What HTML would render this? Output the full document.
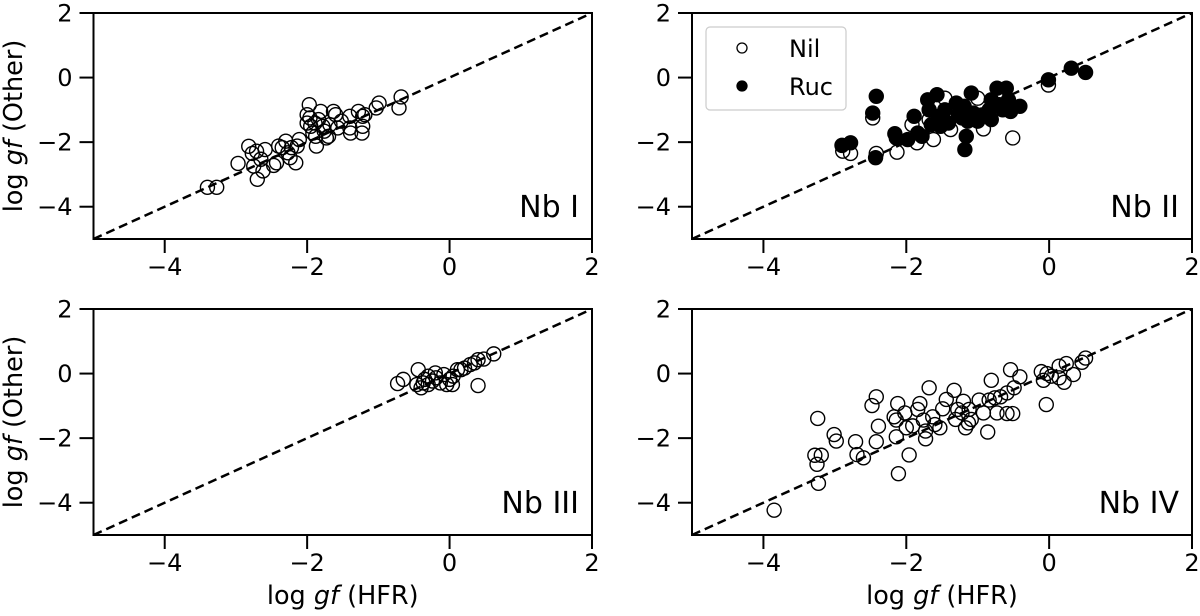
<!DOCTYPE html>
<html><head><meta charset="utf-8"><style>
html,body{margin:0;padding:0;background:#fff;}
svg{display:block;font-family:"DejaVu Sans","Liberation Sans",sans-serif;}
</style></head><body>
<svg id="fig" width="1200" height="616" viewBox="0 0 1200 616" xmlns="http://www.w3.org/2000/svg"></svg>
<script>
const ticks = [-4, -2, 0, 2];
const yTicks = [2, 0, -2, -4];
const panelNames = ["Nb I", "Nb II", "Nb III", "Nb IV"];
const nb1X = [-3.40,-3.27,-2.97,-2.82,-2.77,-2.75,-2.71,-2.70,-2.62,-2.59,-2.65,-2.47,-2.43,-2.40,-2.35,-2.30,-2.27,-2.24,-2.16,-2.22,-2.14,-2.11,-2.0,-1.97,-2.0,-1.95,-1.92,-1.88,-1.87,-1.84,-1.81,-1.78,-1.76,-1.73,-1.70,-1.68,-1.63,-1.60,-1.57,-1.52,-1.40,-1.40,-1.39,-1.28,-1.22,-1.22,-1.23,-1.19,-1.03,-0.99,-0.71,-0.68,-1.96,-1.89];
const nb1Y = [-3.40,-3.40,-2.66,-2.13,-2.35,-2.74,-2.28,-3.15,-2.89,-2.23,-2.53,-2.72,-2.64,-2.12,-2.17,-1.97,-2.33,-2.48,-2.64,-2.17,-2.12,-1.92,-1.15,-0.84,-1.41,-1.51,-1.72,-1.82,-2.12,-1.30,-1.05,-1.51,-1.66,-1.87,-1.82,-1.46,-1.05,-1.15,-1.56,-1.35,-1.20,-1.56,-1.72,-1.05,-1.20,-1.51,-1.72,-1.15,-0.94,-0.79,-0.94,-0.60,-1.25,-1.41];
const nilX = [-2.89,-2.78,-2.47,-2.42,-2.13,-1.85,-1.62,-1.92,-1.46,-1.38,-1.0,-0.92,-0.51,-0.01,-1.68,-1.22];
const nilY = [-2.28,-2.35,-1.25,-2.35,-2.31,-2.02,-1.92,-1.46,-0.64,-1.61,-0.64,-1.59,-1.87,-0.23,-1.30,-1.0];
const rucX = [-2.90,-2.78,-2.47,-2.42,-2.43,-2.16,-2.14,-1.98,-1.89,-1.84,-1.78,-1.70,-1.68,-1.65,-1.57,-1.54,-1.52,-1.46,-1.41,-1.30,-1.27,-1.22,-1.19,-1.16,-1.18,-1.14,-1.09,-1.06,-1.0,-0.92,-0.84,-0.81,-0.81,-0.73,-0.70,-0.65,-0.60,-0.57,-0.54,-0.41,-0.01,0.31,0.51];
const rucY = [-2.10,-2.02,-1.10,-0.58,-2.48,-1.74,-1.87,-1.92,-1.20,-1.72,-1.82,-0.69,-1.0,-1.46,-0.53,-1.20,-1.51,-1.0,-1.41,-0.79,-1.15,-1.25,-0.89,-1.82,-2.23,-1.35,-0.48,-1.10,-1.35,-1.15,-1.0,-1.30,-0.69,-0.33,-0.84,-1.0,-0.33,-0.69,-1.05,-0.89,-0.07,0.29,0.16];
const nb3X = [-0.73,-0.65,-0.44,-0.46,-0.40,-0.35,-0.30,-0.24,-0.20,-0.19,-0.13,-0.08,-0.04,0.04,0.05,0.11,0.16,0.29,0.35,0.40,0.40,0.48,0.62,-0.30,-0.37,0.0,0.21];
const nb3Y = [-0.31,-0.18,0.12,-0.34,-0.44,-0.18,-0.34,-0.23,0.02,-0.13,-0.29,-0.03,-0.34,-0.34,-0.08,0.12,0.12,0.28,0.33,0.43,-0.37,0.45,0.61,-0.08,-0.29,-0.18,0.17];
const nb4X = [-3.85,-3.24,-3.28,-3.19,-3.25,-3.23,-3.01,-2.98,-2.71,-2.69,-2.60,-2.48,-2.42,-2.39,-2.42,-2.17,-2.14,-2.12,-2.14,-2.11,-2.02,-2.0,-1.96,-1.91,-1.84,-1.81,-1.76,-1.73,-1.73,-1.68,-1.63,-1.60,-1.53,-1.49,-1.44,-1.33,-1.31,-1.28,-1.22,-1.20,-1.17,-1.13,-1.12,-1.09,-0.98,-0.92,-0.86,-0.84,-0.81,-0.76,-0.73,-0.68,-0.59,-0.59,-0.51,-0.54,-0.49,-0.41,-0.11,-0.08,-0.04,-0.03,0.03,0.14,0.14,0.21,0.24,0.34,0.46,0.51];
const nb4Y = [-4.23,-1.39,-2.53,-2.53,-2.81,-3.40,-1.89,-2.09,-2.11,-2.51,-2.61,-0.99,-0.72,-1.63,-2.11,-1.34,-1.44,-0.93,-1.96,-3.10,-1.22,-1.68,-2.52,-1.62,-1.11,-0.93,-1.44,-1.78,-2.02,-0.44,-1.34,-1.58,-1.68,-1.09,-0.80,-0.52,-1.42,-1.11,-1.22,-0.86,-1.68,-1.53,-1.11,-1.42,-0.82,-1.22,-1.81,-0.82,-0.21,-0.75,-1.22,-0.72,-1.24,-0.60,-1.24,0.12,-0.44,-0.10,0.06,-0.21,-0.96,0.0,-0.08,-0.13,0.23,-0.27,0.31,-0.03,0.35,0.48];

const NS = "http://www.w3.org/2000/svg";
const svg = document.getElementById('fig');
function mk(tag, attrs, parent) {
  const e = document.createElementNS(NS, tag);
  for (const k in attrs) e.setAttribute(k, attrs[k]);
  (parent || svg).appendChild(e);
  return e;
}
const panels = [
  {l: 93.5, r: 592, t: 13, b: 239},
  {l: 692, r: 1192, t: 13, b: 239},
  {l: 93.5, r: 592, t: 309, b: 535},
  {l: 692, r: 1192, t: 309, b: 535}
];
const series = [
  [{x: nb1X, y: nb1Y, fill: "none"}],
  [{x: nilX, y: nilY, fill: "none"}, {x: rucX, y: rucY, fill: "#000"}],
  [{x: nb3X, y: nb3Y, fill: "none"}],
  [{x: nb4X, y: nb4Y, fill: "none"}]
];
panels.forEach((p, i) => {
  const sx = v => p.l + (v + 5) / 7 * (p.r - p.l);
  const sy = v => p.b - (v + 5) / 7 * (p.b - p.t);
  const g = mk('g', {});
  
  
  const d = mk('line', {x1: sx(-5), y1: sy(-5), x2: sx(2), y2: sy(2), stroke: '#000', 'stroke-width': 2.5, 'stroke-dasharray': '9,5'}, g);
  
  
  series[i].forEach((s, si) => {
    s.x.forEach((xv, k) => {
      const c = mk('circle', {cx: sx(xv), cy: sy(s.y[k]), r: 7, fill: s.fill, stroke: '#000', 'stroke-width': 1.4}, g);
      
      
    });
  });
  const fr = mk('rect', {x: p.l, y: p.t, width: p.r - p.l, height: p.b - p.t, fill: 'none', stroke: '#000', 'stroke-width': 2}, g);
  
  
  ticks.forEach(t => {
    mk('line', {x1: sx(t), y1: p.b, x2: sx(t), y2: p.b + 14, stroke: '#000', 'stroke-width': 2}, g);
    const tx = mk('text', {x: sx(t), y: p.b + 36, 'font-size': 24, 'text-anchor': 'middle'}, g);
    tx.textContent = t < 0 ? '\u2212' + Math.abs(t) : String(t);
    
    
  });
  yTicks.forEach(t => {
    mk('line', {x1: p.l - 14, y1: sy(t), x2: p.l, y2: sy(t), stroke: '#000', 'stroke-width': 2}, g);
    const tx = mk('text', {x: p.l - 21, y: sy(t) + 8.5, 'font-size': 24, 'text-anchor': 'end'}, g);
    tx.textContent = t < 0 ? '\u2212' + Math.abs(t) : String(t);
    
    
  });
  const lab = mk('text', {x: p.r - 13, y: p.b - 22, 'font-size': 30, 'text-anchor': 'end'}, g);
  lab.textContent = panelNames[i];
  
  
  if (i % 2 === 0) {
    const cy = (p.t + p.b) / 2;
    const yt = mk('text', {x: 0, y: 0, 'font-size': 25.5, 'text-anchor': 'middle', transform: 'translate(22,' + cy + ') rotate(-90)'}, g);
    yt.innerHTML = 'log <tspan font-style="italic">gf</tspan> (Other)';
    
    
  }
  if (i >= 2) {
    const xt = mk('text', {x: (p.l + p.r) / 2, y: 604, 'font-size': 25.5, 'text-anchor': 'middle'}, g);
    xt.innerHTML = 'log <tspan font-style="italic">gf</tspan> (HFR)';
    
    
  }
  if (i === 1) {
    const lg = mk('g', {}, g);
    
    
    mk('rect', {x: 706, y: 27, width: 140, height: 83, rx: 4, fill: '#fff', stroke: '#ccc', 'stroke-width': 1.2}, lg);
    mk('circle', {cx: 742, cy: 48, r: 5, fill: 'none', stroke: '#000', 'stroke-width': 1.3}, lg);
    mk('circle', {cx: 742, cy: 86, r: 5, fill: '#000', stroke: '#000', 'stroke-width': 1.3}, lg);
    const t1 = mk('text', {x: 789, y: 57, 'font-size': 24}, lg);
    t1.textContent = 'Nil';
    
    
    const t2 = mk('text', {x: 789, y: 95, 'font-size': 24}, lg);
    t2.textContent = 'Ruc';
    
    
  }
});
</script>
</body></html>
